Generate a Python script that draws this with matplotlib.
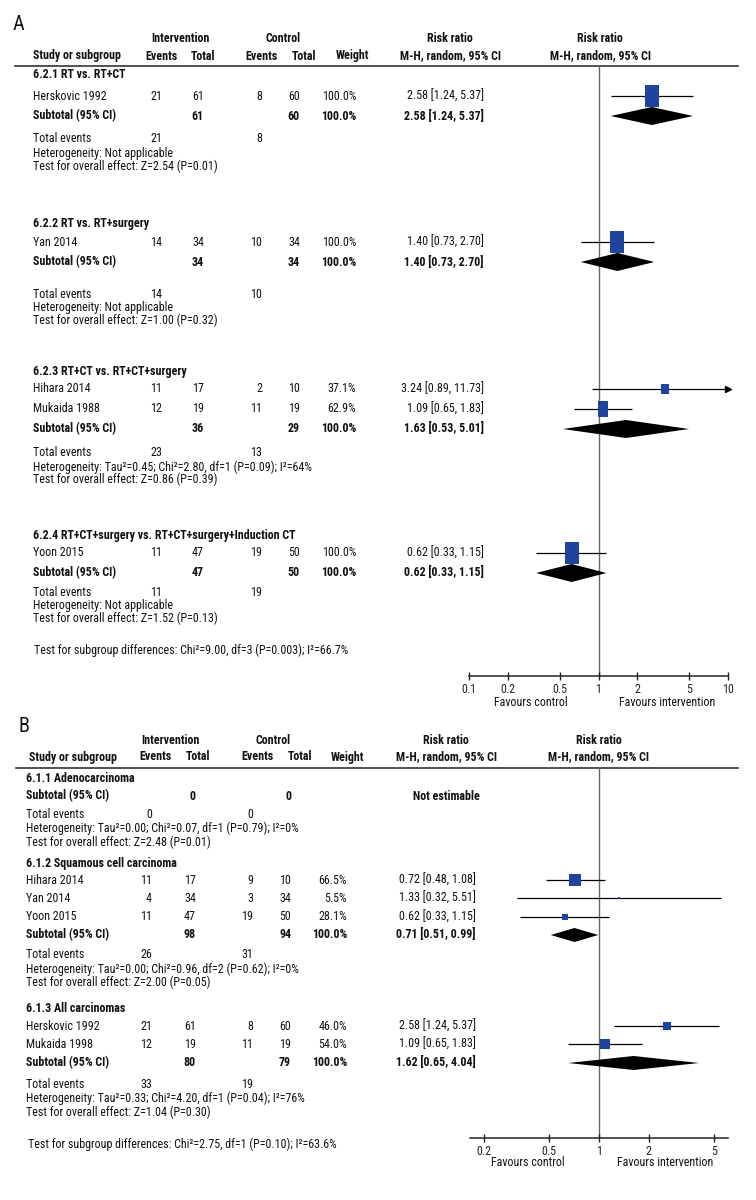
import os
import matplotlib
matplotlib.use('Agg')
import matplotlib.pyplot as plt
from matplotlib.path import Path
from matplotlib.ticker import NullLocator
from matplotlib import font_manager as fm

# ---------------- DATA: panel A ----------------
A_group_titles = ["6.2.1 RT vs. RT+CT", "6.2.2 RT vs. RT+surgery",
                  "6.2.3 RT+CT vs. RT+CT+surgery",
                  "6.2.4 RT+CT+surgery vs. RT+CT+surgery+Induction CT"]
A_studies = ["Herskovic 1992", "Yan 2014", "Hihara 2014", "Mukaida 1988", "Yoon 2015"]
A_study_group = [0, 1, 2, 2, 3]
A_ev_int = [21, 14, 11, 12, 11]
A_tot_int = [61, 34, 17, 19, 47]
A_ev_ctl = [8, 10, 2, 11, 19]
A_tot_ctl = [60, 34, 10, 19, 50]
A_weight = [100.0, 100.0, 37.1, 62.9, 100.0]
A_rr = [2.58, 1.40, 3.24, 1.09, 0.62]
A_lo = [1.24, 0.73, 0.89, 0.65, 0.33]
A_hi = [5.37, 2.70, 11.73, 1.83, 1.15]
A_sub_tot_int = [61, 34, 36, 47]
A_sub_tot_ctl = [60, 34, 29, 50]
A_sub_rr = [2.58, 1.40, 1.63, 0.62]
A_sub_lo = [1.24, 0.73, 0.53, 0.33]
A_sub_hi = [5.37, 2.70, 5.01, 1.15]
A_sub_ev_int = [21, 14, 23, 11]
A_sub_ev_ctl = [8, 10, 13, 19]
A_hetero = ["Not applicable", "Not applicable",
            "Tau²=0.45; Chi²=2.80, df=1 (P=0.09); I²=64%", "Not applicable"]
A_overall = ["Z=2.54 (P=0.01)", "Z=1.00 (P=0.32)", "Z=0.86 (P=0.39)", "Z=1.52 (P=0.13)"]
A_subgroup_diff = "Chi²=9.00, df=3 (P=0.003); I²=66.7%"
A_ticks = [0.1, 0.2, 0.5, 1, 2, 5, 10]
A_ticklabels = ["0.1", "0.2", "0.5", "1", "2", "5", "10"]

# ---------------- DATA: panel B ----------------
B_group_titles = ["6.1.1 Adenocarcinoma", "6.1.2 Squamous cell carcinoma", "6.1.3 All carcinomas"]
B_studies = ["Hihara 2014", "Yan 2014", "Yoon 2015", "Herskovic 1992", "Mukaida 1998"]
B_study_group = [1, 1, 1, 2, 2]
B_ev_int = [11, 4, 11, 21, 12]
B_tot_int = [17, 34, 47, 61, 19]
B_ev_ctl = [9, 3, 19, 8, 11]
B_tot_ctl = [10, 34, 50, 60, 19]
B_weight = [66.5, 5.5, 28.1, 46.0, 54.0]
B_rr = [0.72, 1.33, 0.62, 2.58, 1.09]
B_lo = [0.48, 0.32, 0.33, 1.24, 0.65]
B_hi = [1.08, 5.51, 1.15, 5.37, 1.83]
B_sub_tot_int = [0, 98, 80]
B_sub_tot_ctl = [0, 94, 79]
B_sub_rr = [None, 0.71, 1.62]
B_sub_lo = [None, 0.51, 0.65]
B_sub_hi = [None, 0.99, 4.04]
B_sub_ev_int = [0, 26, 33]
B_sub_ev_ctl = [0, 31, 19]
B_hetero = ["Tau²=0.00; Chi²=0.07, df=1 (P=0.79); I²=0%",
            "Tau²=0.00; Chi²=0.96, df=2 (P=0.62); I²=0%",
            "Tau²=0.33; Chi²=4.20, df=1 (P=0.04); I²=76%"]
B_overall = ["Z=2.48 (P=0.01)", "Z=2.00 (P=0.05)", "Z=1.04 (P=0.30)"]
B_subgroup_diff = "Chi²=2.75, df=1 (P=0.10); I²=63.6%"
B_ticks = [0.2, 0.5, 1, 2, 5]
B_ticklabels = ["0.2", "0.5", "1", "2", "5"]


# ---------------- FONT: prefer a condensed sans face ----------------
def _w(f):
    w = f.weight
    if isinstance(w, str):
        w = {'normal': 400, 'regular': 400, 'book': 400, 'medium': 500,
             'bold': 700, 'semibold': 600, 'demibold': 600}.get(w.lower(), 400)
    return int(w)


def find_condensed(bold):
    target = 700 if bold else 400
    prefs = ['Liberation Sans Narrow', 'Roboto Condensed', 'Open Sans Condensed',
             'Noto Sans', 'DejaVu Sans', 'Open Sans', 'Roboto', 'Lato', 'Inter']
    for fam in prefs:
        for f in fm.fontManager.ttflist:
            if f.name != fam or f.style != 'normal':
                continue
            base = os.path.basename(f.fname).lower()
            if fam not in ('Liberation Sans Narrow', 'Roboto Condensed', 'Open Sans Condensed'):
                if 'condensed' not in base and 'narrow' not in base:
                    continue
            if any(k in base for k in ('extra', 'semi', 'ultra', 'italic', 'oblique',
                                       'light', 'thin', 'black', 'medium')):
                continue
            if abs(_w(f) - target) > 100:
                continue
            return f.fname
    return None


reg_path = find_condensed(False)
bold_path = find_condensed(True)
FALLBACK = ['Liberation Sans', 'DejaVu Sans']
plt.rcParams['font.family'] = FALLBACK


def make_fp(path, bold, size):
    if path is not None:
        return fm.FontProperties(fname=path, size=size)
    return fm.FontProperties(family=FALLBACK, weight='bold' if bold else 'normal', size=size)


# ---------------- STYLE / LAYOUT ----------------
BLUE = '#1f44a0'
W, H = 756, 1200

fig = plt.figure(figsize=(W / 100, H / 100), dpi=100)
tax = fig.add_axes([0, 0, 1, 1])
tax.set_xlim(0, W)
tax.set_ylim(H, 0)
tax.axis('off')

# calibrate the font size against the width of one line of the reference
FS0 = 7.8
_probe = tax.text(0, 0, "Heterogeneity: Tau²=0.45; Chi²=2.80, df=1 (P=0.09); I²=64%",
                  fontproperties=make_fp(reg_path, False, FS0))
_r = fig.canvas.get_renderer()
_wpx = _probe.get_window_extent(_r).width
_probe.remove()
FS = max(6.6, min(8.8, 1.1 * FS0 * 254.0 / _wpx))
FP_REG = make_fp(reg_path, False, FS)
FP_BOLD = make_fp(bold_path, True, FS)
FP_BIG = make_fp(reg_path, False, 14.5)


def txt(x, y, s, ha='left', bold=False, fp=None):
    tax.text(x, y, s, ha=ha, va='center', color='#111111',
             fontproperties=fp if fp is not None else (FP_BOLD if bold else FP_REG))


def fmt_ci(r, l, h):
    return f"{r:.2f} [{l:.2f}, {h:.2f}]"


def rect_marker(aspect):
    w, h = aspect / 2, 0.5
    return Path([(-w, -h), (w, -h), (w, h), (-w, h), (-w, -h)],
                [Path.MOVETO, Path.LINETO, Path.LINETO, Path.LINETO, Path.CLOSEPOLY])


def forest_axes(x0, x1, y0, y1, xlim, ticks, labels):
    ax = fig.add_axes([x0 / W, 1 - y1 / H, (x1 - x0) / W, (y1 - y0) / H])
    ax.set_xscale('log')
    ax.set_xlim(*xlim)
    ax.set_ylim(y1, y0)
    ax.patch.set_alpha(0)
    for s in ['top', 'left', 'right']:
        ax.spines[s].set_visible(False)
    ax.spines['bottom'].set_linewidth(1.1)
    ax.spines['bottom'].set_color('#222222')
    ax.set_xticks(ticks)
    ax.set_xticklabels(labels)
    ax.xaxis.set_minor_locator(NullLocator())
    ax.tick_params(axis='x', direction='inout', length=5.5, width=1.0,
                   pad=2.0, colors='#222222')
    for lab in ax.get_xticklabels():
        lab.set_fontproperties(FP_REG)
    ax.set_yticks([])
    ax.axvline(1, color='#666666', lw=1.0, zorder=1)
    return ax


def draw_panel(P):
    txt(P['letter_xy'][0], P['letter_xy'][1], P['letter'], fp=FP_BIG)
    hy1, hy2 = P['head_y']
    hc = P['head_c']
    txt(hc['int'], hy1, "Intervention", ha='center', bold=True)
    txt(hc['ctl'], hy1, "Control", ha='center', bold=True)
    txt(P['head_label_x'], hy2, "Study or subgroup", bold=True)
    for key, lab in [('ev1', 'Events'), ('tot1', 'Total'), ('ev2', 'Events'),
                     ('tot2', 'Total'), ('wt', 'Weight')]:
        txt(hc[key], hy2, lab, ha='center', bold=True)
    for key in ['rr1', 'rr2']:
        txt(hc[key], hy1, "Risk ratio", ha='center', bold=True)
        txt(hc[key], hy2, "M-H, random, 95% CI", ha='center', bold=True)
    tax.plot(P['rule_x'], [P['rule_y'], P['rule_y']], color='#333333', lw=1.2)

    c = P['cols']
    lx = P['label_x']
    ax = forest_axes(P['fx'][0], P['fx'][1], P['rule_y'], P['axis_y'],
                     P['xlim'], P['ticks'], P['ticklabels'])
    xmax = P['xlim'][1]

    for g, title in enumerate(P['titles']):
        txt(lx, P['title_y'][g], title, bold=True)
    for i, name in enumerate(P['studies']):
        y = P['study_y'][i]
        txt(lx, y, name)
        txt(c[0], y, str(P['ev_int'][i]), ha='right')
        txt(c[1], y, str(P['tot_int'][i]), ha='right')
        txt(c[2], y, str(P['ev_ctl'][i]), ha='right')
        txt(c[3], y, str(P['tot_ctl'][i]), ha='right')
        txt(c[4], y, f"{P['weight'][i]:.1f}%", ha='right')
        txt(P['rr_x'], y, fmt_ci(P['rr'][i], P['lo'][i], P['hi'][i]), ha='right')
        hi = min(P['hi'][i], xmax)
        ax.hlines(y, P['lo'][i], hi, color='black', lw=0.9, zorder=2)
        if P['hi'][i] > xmax:
            ax.plot([xmax], [y], marker='>', ms=4.5, color='black', clip_on=False, zorder=3)
        f = (P['weight'][i] / 100.0) ** 0.75
        long_px = P['sq_long'] * f
        ax.scatter([P['rr'][i]], [y], s=(long_px * 0.72) ** 2,
                   marker=rect_marker(P['sq_aspect']), color=BLUE, lw=0, zorder=3)
    for g in range(len(P['titles'])):
        y = P['sub_y'][g]
        txt(lx, y, "Subtotal (95% CI)", bold=True)
        txt(c[1], y, str(P['sub_tot_int'][g]), ha='right', bold=True)
        txt(c[3], y, str(P['sub_tot_ctl'][g]), ha='right', bold=True)
        r = P['sub_rr'][g]
        if r is None:
            txt(P['ne_x'], y, "Not estimable", ha='center', bold=True)
        else:
            txt(c[4], y, "100.0%", ha='right', bold=True)
            lo, hi = P['sub_lo'][g], P['sub_hi'][g]
            txt(P['rr_x'], y, fmt_ci(r, lo, hi), ha='right', bold=True)
            dh = P['dia_h'] / 2
            ax.fill([lo, r, hi, r], [y, y - dh, y, y + dh], color='black', lw=0, zorder=4)
        y = P['tev_y'][g]
        txt(lx, y, "Total events")
        txt(c[0], y, str(P['sub_ev_int'][g]), ha='right')
        txt(c[2], y, str(P['sub_ev_ctl'][g]), ha='right')
        txt(lx, P['het_y'][g], "Heterogeneity: " + P['hetero'][g])
        txt(lx, P['ovr_y'][g], "Test for overall effect: " + P['overall'][g])
    txt(P['diff_xy'][0], P['diff_xy'][1], "Test for subgroup differences: " + P['diff'])
    txt(P['fav_c'][0], P['fav_y'], "Favours control", ha='center')
    txt(P['fav_c'][1], P['fav_y'], "Favours intervention", ha='center')


panelA = dict(
    letter="A", letter_xy=(13, 24), head_y=(39, 56), head_label_x=33,
    head_c=dict(int=180, ctl=283, ev1=161, tot1=203, ev2=262, tot2=304, wt=352, rr1=450, rr2=600),
    rule_x=[15, 738], rule_y=66, axis_y=676, fx=(469, 728), xlim=(0.1, 10),
    ticks=A_ticks, ticklabels=A_ticklabels,
    label_x=33, cols=[162, 204, 262, 300, 356], rr_x=484, ne_x=450,
    titles=A_group_titles, title_y=[75, 224, 372, 536],
    studies=A_studies, study_y=[96, 242, 389, 409, 553],
    ev_int=A_ev_int, tot_int=A_tot_int, ev_ctl=A_ev_ctl, tot_ctl=A_tot_ctl,
    weight=A_weight, rr=A_rr, lo=A_lo, hi=A_hi,
    sub_y=[116, 262, 429, 573], sub_tot_int=A_sub_tot_int, sub_tot_ctl=A_sub_tot_ctl,
    sub_rr=A_sub_rr, sub_lo=A_sub_lo, sub_hi=A_sub_hi,
    tev_y=[138, 294, 453, 593], het_y=[154, 307, 467, 606], ovr_y=[166, 320, 479, 618],
    sub_ev_int=A_sub_ev_int, sub_ev_ctl=A_sub_ev_ctl, hetero=A_hetero, overall=A_overall,
    diff=A_subgroup_diff, diff_xy=(34, 650), fav_c=(531, 667), fav_y=703,
    sq_long=23, sq_aspect=15 / 23, dia_h=18,
)

panelB = dict(
    letter="B", letter_xy=(18, 727), head_y=(741, 757), head_label_x=29,
    head_c=dict(int=170, ctl=273, ev1=155, tot1=198, ev2=257, tot2=300, wt=347, rr1=446, rr2=599),
    rule_x=[16, 738], rule_y=768, axis_y=1138, fx=(470, 728), xlim=(1 / 6.05, 6.05),
    ticks=B_ticks, ticklabels=B_ticklabels,
    label_x=26, cols=[152, 196, 253, 291, 347], rr_x=476, ne_x=446,
    titles=B_group_titles, title_y=[778, 863, 1008],
    studies=B_studies, study_y=[880, 898, 917, 1026, 1044],
    ev_int=B_ev_int, tot_int=B_tot_int, ev_ctl=B_ev_ctl, tot_ctl=B_tot_ctl,
    weight=B_weight, rr=B_rr, lo=B_lo, hi=B_hi,
    sub_y=[796, 935, 1063], sub_tot_int=B_sub_tot_int, sub_tot_ctl=B_sub_tot_ctl,
    sub_rr=B_sub_rr, sub_lo=B_sub_lo, sub_hi=B_sub_hi,
    tev_y=[814, 955, 1084], het_y=[828, 969, 1098], ovr_y=[842, 982, 1112],
    sub_ev_int=B_sub_ev_int, sub_ev_ctl=B_sub_ev_ctl, hetero=B_hetero, overall=B_overall,
    diff=B_subgroup_diff, diff_xy=(28, 1144), fav_c=(528, 665), fav_y=1163,
    sq_long=16, sq_aspect=15 / 16, dia_h=14,
)

draw_panel(panelA)
draw_panel(panelB)

fig.savefig('out.png', dpi=100, facecolor='white')
